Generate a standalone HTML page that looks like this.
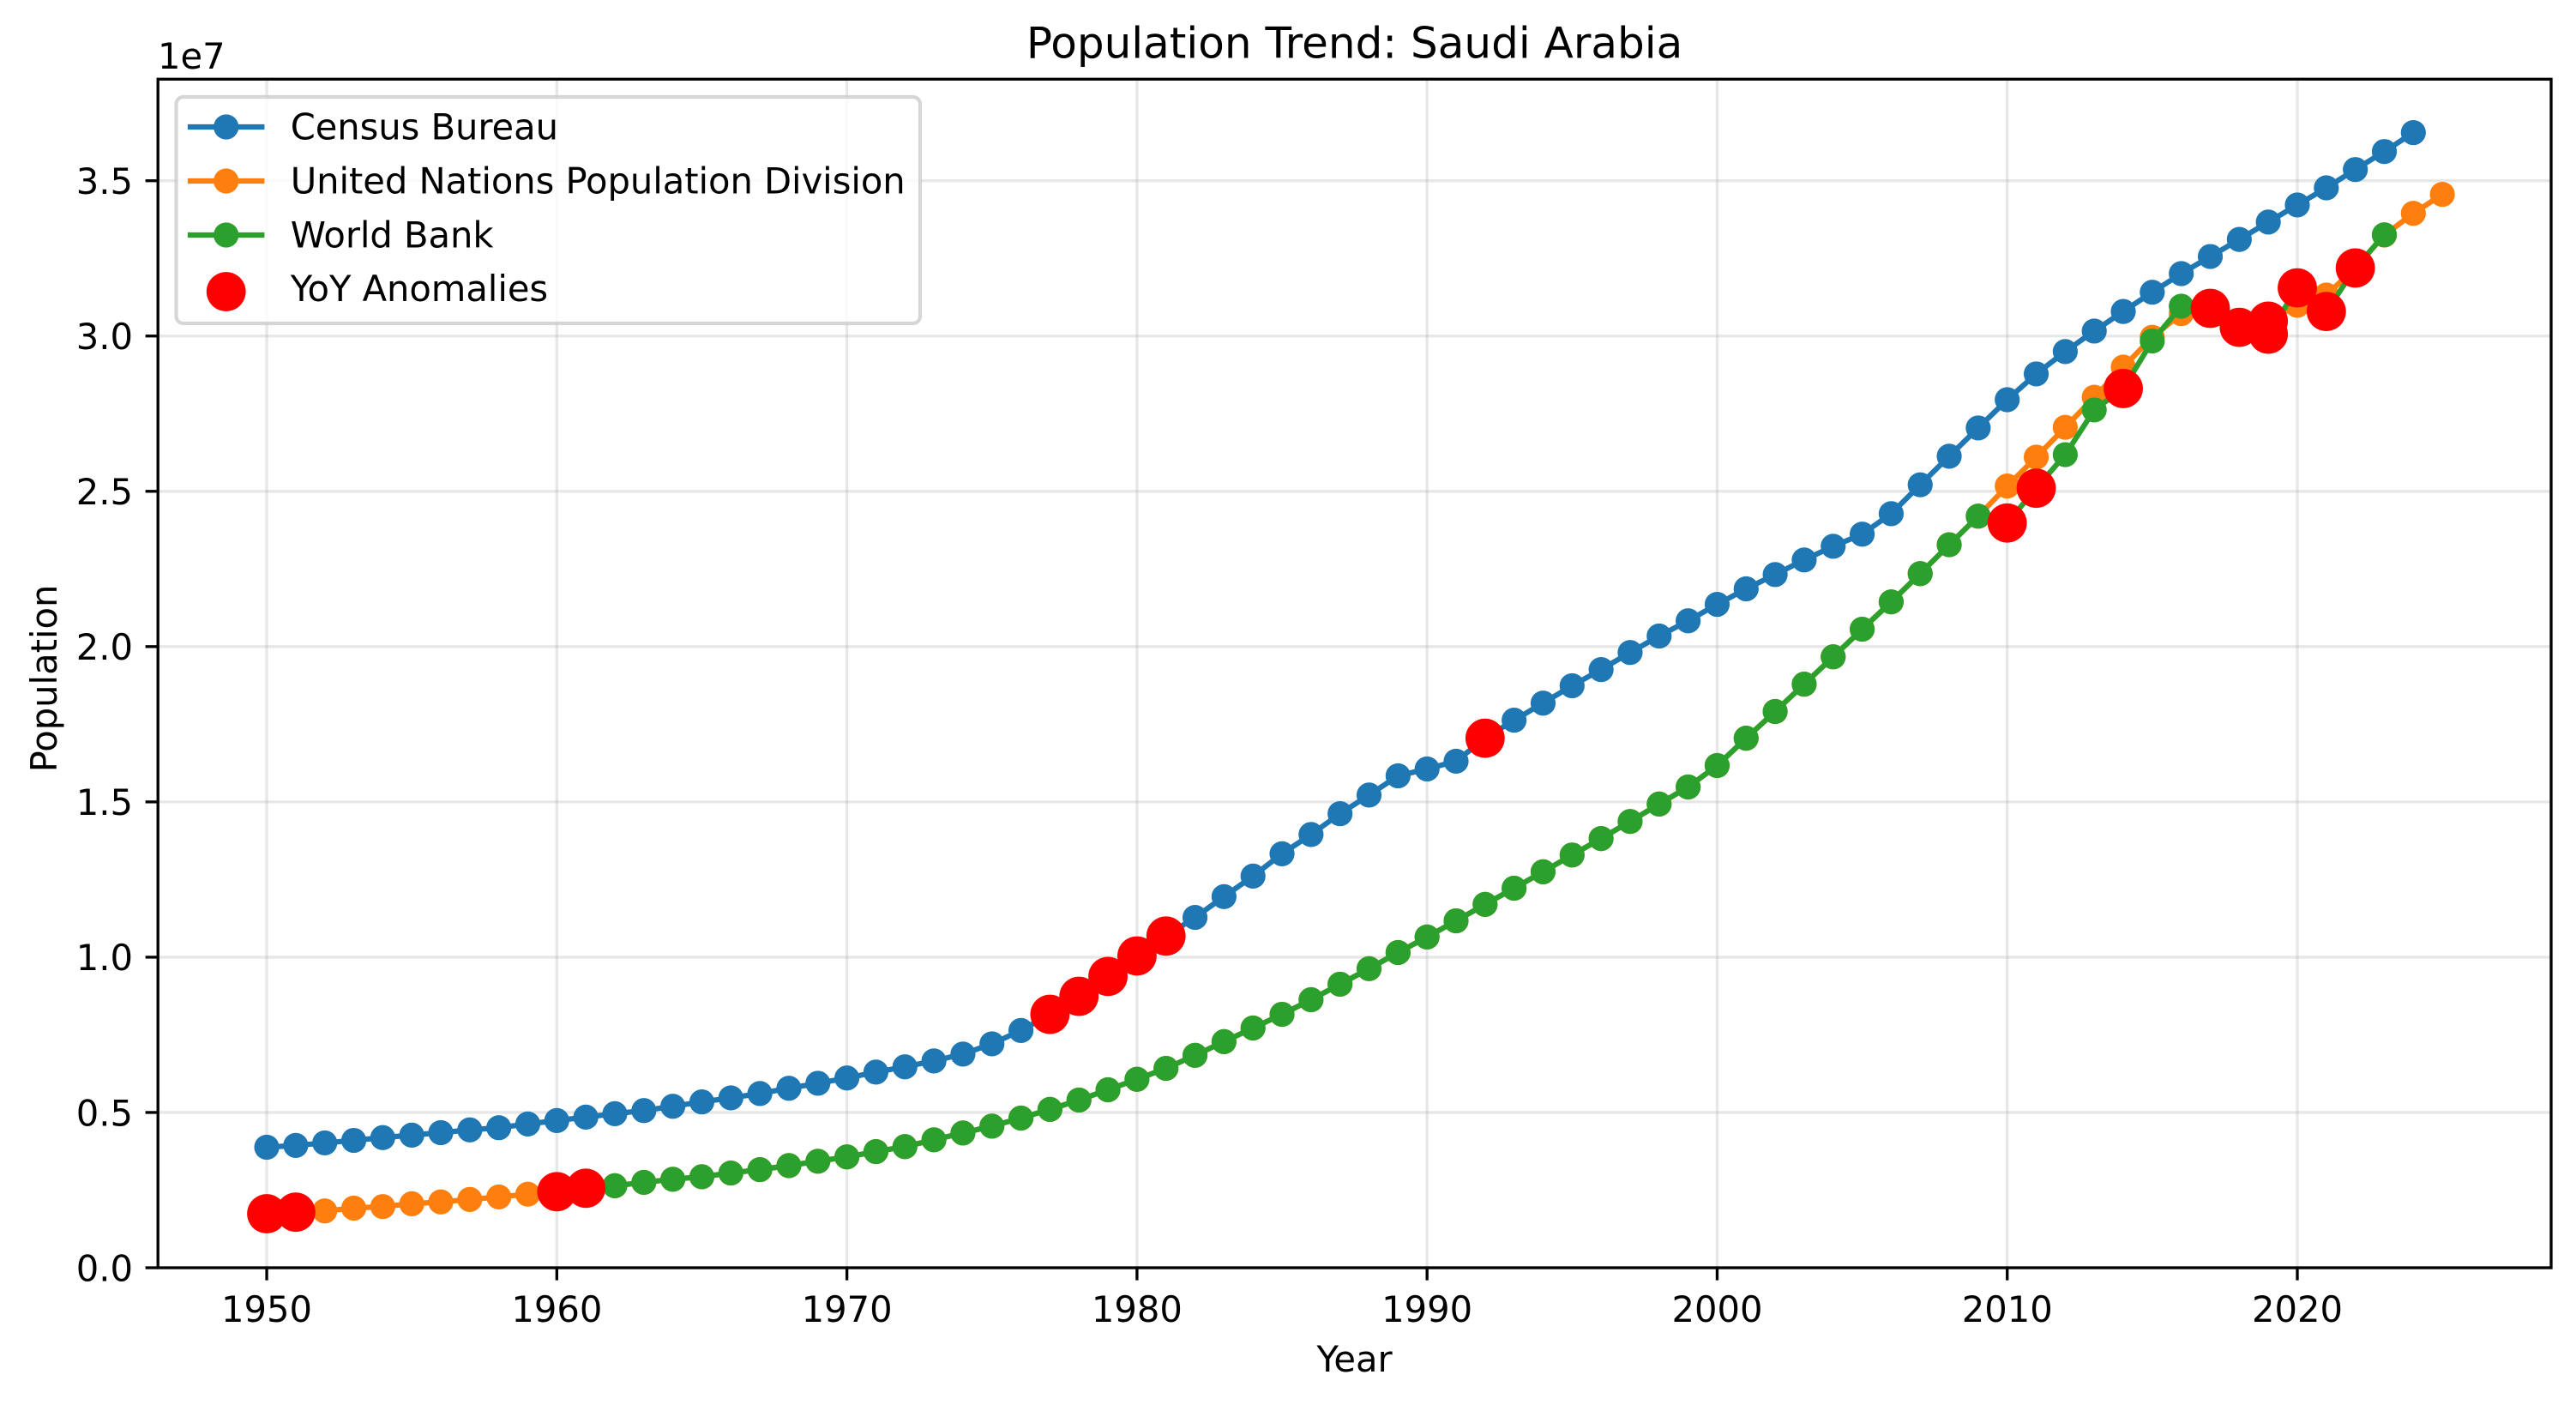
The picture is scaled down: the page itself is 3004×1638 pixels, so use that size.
<!DOCTYPE html>
<html lang="en">
<head>
<meta charset="utf-8">
<title>Population Trend: Saudi Arabia</title>
<style>
html,body{margin:0;padding:0;background:#fff;}
svg{display:block;}
text{font-family:"DejaVu Sans","Liberation Sans",sans-serif;fill:#000;}
.legend-label{letter-spacing:-0.05px;}
</style>
</head>
<body>
<svg id="chart" xmlns="http://www.w3.org/2000/svg" width="3004" height="1638" viewBox="0 0 3004 1638">
  <rect x="0" y="0" width="3004" height="1638" fill="#ffffff"/>
  <g id="grid"></g>
  <g id="series"></g>
  <g id="anomalies"></g>
  <g id="axes"></g>
  <text x="1579.6" y="67.5" font-size="50" text-anchor="middle">Population Trend: Saudi Arabia</text>
  <text x="1579.6" y="1599" font-size="41.67" text-anchor="middle">Year</text>
  <text x="66" y="791" font-size="41.67" text-anchor="middle" transform="rotate(-90 66 791)">Population</text>
  <text x="184" y="80" font-size="41.67">1e7</text>
  <g>
    <rect x="205.5" y="113" width="867.5" height="264" rx="8.3" ry="8.3" fill="#ffffff" fill-opacity="0.8" stroke="#cccccc" stroke-opacity="0.8" stroke-width="4.17"/>
    <g>
      <line x1="222" y1="148" x2="305.3" y2="148" stroke="#1f77b4" stroke-width="6.25" stroke-linecap="square"/>
      <circle cx="263.7" cy="148" r="14.6" fill="#1f77b4"/>
      <text class="legend-label" x="338.7" y="162.3" font-size="41.67">Census Bureau</text>
    </g>
    <g>
      <line x1="222" y1="211" x2="305.3" y2="211" stroke="#ff7f0e" stroke-width="6.25" stroke-linecap="square"/>
      <circle cx="263.7" cy="211" r="14.6" fill="#ff7f0e"/>
      <text class="legend-label" x="338.7" y="225.3" font-size="41.67">United Nations Population Division</text>
    </g>
    <g>
      <line x1="222" y1="274" x2="305.3" y2="274" stroke="#2ca02c" stroke-width="6.25" stroke-linecap="square"/>
      <circle cx="263.7" cy="274" r="14.6" fill="#2ca02c"/>
      <text class="legend-label" x="338.7" y="288.5" font-size="41.67">World Bank</text>
    </g>
    <g>
      <circle cx="263.7" cy="340" r="22.9" fill="#ff0000"/>
      <text class="legend-label" x="338.7" y="351" font-size="41.67">YoY Anomalies</text>
    </g>
  </g>
</svg>
<script>
const xTickYears = [1950, 1960, 1970, 1980, 1990, 2000, 2010, 2020];
const yTickValues = [0, 5000000, 10000000, 15000000, 20000000, 25000000, 30000000, 35000000];
const yTickLabels = ["0.0", "0.5", "1.0", "1.5", "2.0", "2.5", "3.0", "3.5"];

const censusStartYear = 1950;
const censusValues = [
  3880000, 3940000, 4020000, 4100000, 4190000, 4270000, 4350000, 4440000, 4510000, 4630000,
  4740000, 4850000, 4960000, 5060000, 5200000, 5340000, 5470000, 5610000, 5780000, 5940000,
  6110000, 6300000, 6470000, 6660000, 6880000, 7210000, 7640000, 8160000, 8740000, 9380000,
  10040000, 10680000, 11280000, 11950000, 12610000, 13330000, 13950000, 14620000, 15220000, 15840000,
  16060000, 16310000, 17050000, 17630000, 18180000, 18740000, 19260000, 19810000, 20340000, 20830000,
  21360000, 21860000, 22320000, 22790000, 23230000, 23620000, 24280000, 25210000, 26130000, 27040000,
  27950000, 28780000, 29500000, 30160000, 30790000, 31410000, 32010000, 32560000, 33110000, 33670000,
  34220000, 34770000, 35360000, 35940000, 36550000
];

const unStartYear = 1950;
const unValues = [
  1740000, 1790000, 1830000, 1920000, 1970000, 2060000, 2120000, 2200000, 2280000, 2370000,
  2450000, 2560000, 2640000, 2750000, 2850000, 2930000, 3050000, 3160000, 3290000, 3430000,
  3570000, 3740000, 3900000, 4120000, 4340000, 4560000, 4820000, 5100000, 5400000, 5730000,
  6070000, 6420000, 6840000, 7280000, 7720000, 8160000, 8630000, 9130000, 9630000, 10150000,
  10650000, 11170000, 11700000, 12220000, 12750000, 13290000, 13820000, 14370000, 14930000, 15480000,
  16170000, 17050000, 17910000, 18790000, 19670000, 20560000, 21440000, 22350000, 23280000, 24200000,
  25170000, 26100000, 27060000, 28030000, 29000000, 29960000, 30720000, 30890000, 30500000, 30480000,
  30990000, 31320000, 32190000, 33250000, 33950000, 34560000
];

const worldBankStartYear = 1960;
const worldBankValues = [
  2450000, 2560000, 2640000, 2750000, 2850000, 2930000, 3050000, 3160000, 3290000, 3430000,
  3570000, 3740000, 3900000, 4120000, 4340000, 4560000, 4820000, 5100000, 5400000, 5730000,
  6070000, 6420000, 6840000, 7280000, 7720000, 8160000, 8630000, 9130000, 9630000, 10150000,
  10650000, 11170000, 11700000, 12220000, 12750000, 13290000, 13820000, 14370000, 14930000, 15480000,
  16170000, 17050000, 17910000, 18790000, 19670000, 20560000, 21440000, 22350000, 23280000, 24200000,
  23980000, 25100000, 26180000, 27620000, 28310000, 29840000, 30960000, 30890000, 30280000, 30060000,
  31550000, 30790000, 32190000, 33260000
];

const anomalyYears = [1950, 1951, 1960, 1961, 1977, 1978, 1979, 1980, 1981, 1992, 2010, 2011, 2014, 2017, 2018, 2019, 2019, 2020, 2021, 2022];
const anomalyValues = [1740000, 1790000, 2450000, 2560000, 8160000, 8740000, 9380000, 10040000, 10680000, 17050000, 23980000, 25100000, 28310000, 30890000, 30280000, 30480000, 30060000, 31550000, 30790000, 32190000];

const NS = "http://www.w3.org/2000/svg";
const plotLeft = 184.2, plotRight = 2975, plotTop = 92.3, plotBottom = 1478;
const xMin = 1946.25, xMax = 2028.75, yMin = 0, yMax = 38270000;

function xScale(year) {
  return plotLeft + (year - xMin) / (xMax - xMin) * (plotRight - plotLeft);
}
function yScale(value) {
  return plotBottom - (value - yMin) / (yMax - yMin) * (plotBottom - plotTop);
}
function make(tag, attrs, parent) {
  const el = document.createElementNS(NS, tag);
  for (const k in attrs) el.setAttribute(k, attrs[k]);
  parent.appendChild(el);
  return el;
}

const gridG = document.getElementById("grid");
const axesG = document.getElementById("axes");
const seriesG = document.getElementById("series");
const anomaliesG = document.getElementById("anomalies");

xTickYears.forEach(function (year) {
  const x = xScale(year);
  const g = make("line", {x1: x, x2: x, y1: plotTop, y2: plotBottom, stroke: "#b0b0b0", "stroke-opacity": 0.3, "stroke-width": 3.33}, gridG);
  
  
  const t = make("line", {x1: x, x2: x, y1: plotBottom, y2: plotBottom + 14.6, stroke: "#000", "stroke-width": 3.33}, axesG);
  
  
  const l = make("text", {x: x, y: 1541, "font-size": 41.67, "text-anchor": "middle"}, axesG);
  l.textContent = String(year);
  
  
});

yTickValues.forEach(function (value, i) {
  const y = yScale(value);
  const g = make("line", {x1: plotLeft, x2: plotRight, y1: y, y2: y, stroke: "#b0b0b0", "stroke-opacity": 0.3, "stroke-width": 3.33}, gridG);
  
  
  const t = make("line", {x1: plotLeft - 14.6, x2: plotLeft, y1: y, y2: y, stroke: "#000", "stroke-width": 3.33}, axesG);
  
  
  const l = make("text", {x: 155, y: y + 15.3, "font-size": 41.67, "text-anchor": "end"}, axesG);
  l.textContent = yTickLabels[i];
  
  
});

const spine = make("rect", {x: plotLeft, y: plotTop, width: plotRight - plotLeft, height: plotBottom - plotTop, fill: "none", stroke: "#000", "stroke-width": 3.33}, axesG);



function drawSeries(key, color, startYear, values) {
  const group = make("g", {}, seriesG);
  
  
  const pts = values.map(function (v, i) {
    return xScale(startYear + i).toFixed(2) + "," + yScale(v).toFixed(2);
  }).join(" ");
  const line = make("polyline", {points: pts, fill: "none", stroke: color, "stroke-width": 6.25, "stroke-linejoin": "round", "stroke-linecap": "square"}, group);
  
  
  values.forEach(function (v, i) {
    const year = startYear + i;
    const c = make("circle", {cx: xScale(year), cy: yScale(v), r: 14.6, fill: color}, group);
    
    
  });
}

drawSeries("census-bureau", "#1f77b4", censusStartYear, censusValues);
drawSeries("united-nations", "#ff7f0e", unStartYear, unValues);
drawSeries("world-bank", "#2ca02c", worldBankStartYear, worldBankValues);

anomalyYears.forEach(function (year, i) {
  const c = make("circle", {cx: xScale(year), cy: yScale(anomalyValues[i]), r: 22.9, fill: "#ff0000"}, anomaliesG);
  
  
});
</script>
</body>
</html>
